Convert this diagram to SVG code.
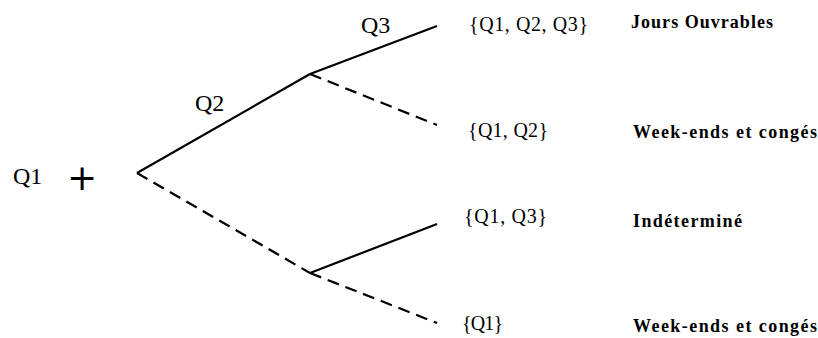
<svg xmlns="http://www.w3.org/2000/svg" width="818" height="338" viewBox="0 0 818 338">
<style>
.bg{fill:#fff}
.e{stroke:#000;stroke-width:2.2;fill:none;stroke-linecap:butt}
.d{stroke-dasharray:12 7}
.q{font-family:"Times New Roman","Liberation Serif","DejaVu Serif",serif;font-size:24px;fill:#000}
.s{font-family:"Times New Roman","Liberation Serif","DejaVu Serif",serif;font-size:20px;fill:#000}
.l{font-family:"Times New Roman","Liberation Serif","DejaVu Serif",serif;font-size:18px;font-weight:bold;fill:#000}
</style>
<rect class="bg" x="0" y="0" width="818" height="338"/>
<g id="connectors">
<line class="e" x1="137" y1="173" x2="310" y2="74"/>
<line class="e" x1="310" y1="74" x2="437" y2="26"/>
<line class="e d" x1="310" y1="74" x2="437" y2="125"/>
<line class="e d" x1="137" y1="173" x2="310" y2="273"/>
<line class="e" x1="310" y1="273" x2="437" y2="224"/>
<line class="e d" x1="310" y1="273" x2="437" y2="323"/>
<text class="q" x="195" y="111">Q2</text>
<text class="q" x="361" y="33">Q3</text>
</g>
<g id="root">
<text class="q" x="13" y="184">Q1</text>
<text x="82" y="190" text-anchor="middle" style="font-family:'DejaVu Sans',sans-serif;font-size:36px">+</text>
</g>
<g id="leaf1">
<text class="s" x="469" y="31" textLength="119">{Q1, Q2, Q3}</text>
<text class="l" x="631" y="28" textLength="142">Jours Ouvrables</text>
</g>
<g id="leaf2">
<text class="s" x="468" y="137" textLength="80">{Q1, Q2}</text>
<text class="l" x="633" y="138" textLength="184">Week-ends et congés</text>
</g>
<g id="leaf3">
<text class="s" x="464" y="223" textLength="83">{Q1, Q3}</text>
<text class="l" x="633" y="227" textLength="109">Indéterminé</text>
</g>
<g id="leaf4">
<text class="s" x="462" y="330" textLength="41">{Q1}</text>
<text class="l" x="633" y="332" textLength="184">Week-ends et congés</text>
</g>
</svg>
